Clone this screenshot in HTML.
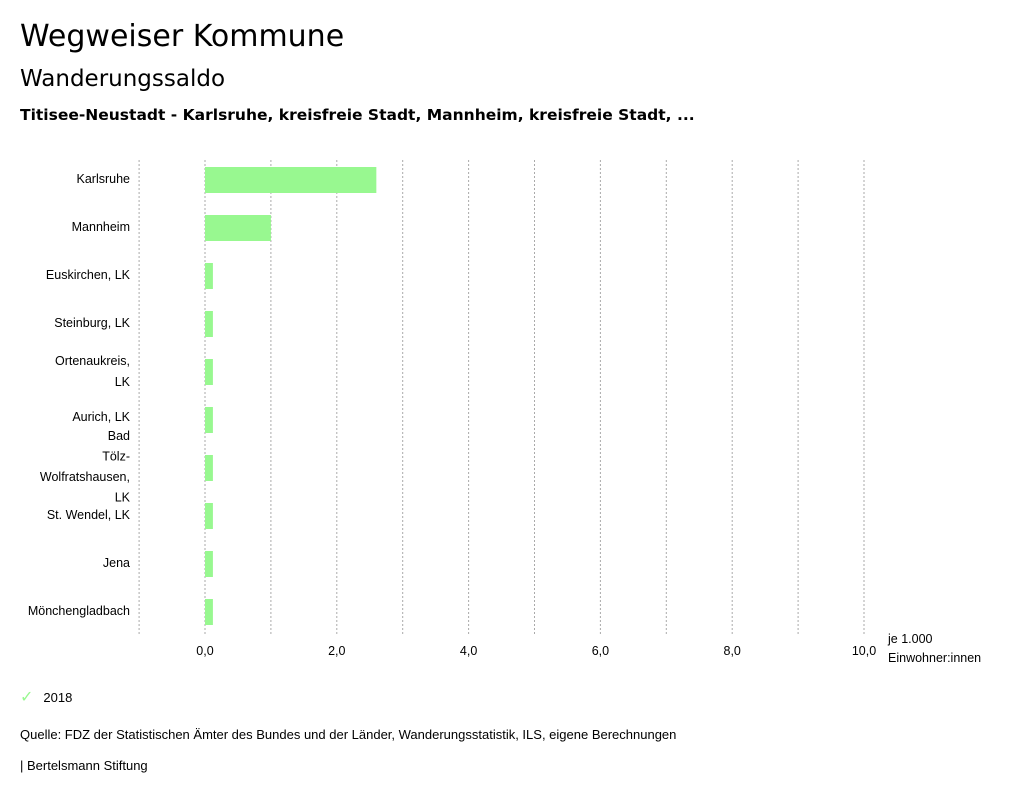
<!DOCTYPE html>
<html><head><meta charset="utf-8"><style>
body{margin:0;background:#fff;font-family:"Liberation Sans",sans-serif;color:#000;}
#wrap{position:relative;width:1024px;height:799px;overflow:hidden;}
.t{position:absolute;white-space:nowrap;}
.h{font-family:"DejaVu Sans",sans-serif;}
</style></head><body>
<div id="wrap">
<div class="t h" style="left:20px;top:19px;font-size:30px;">Wegweiser Kommune</div>
<div class="t h" style="left:20px;top:66px;font-size:23px;">Wanderungssaldo</div>
<div class="t h" style="left:20px;top:106px;font-size:15.5px;font-weight:bold;">Titisee-Neustadt - Karlsruhe, kreisfreie Stadt, Mannheim, kreisfreie Stadt, ...</div>
<svg id="chart" width="1024" height="700" style="position:absolute;left:0;top:0"></svg>
<div class="t" style="left:888px;top:630px;font-size:12.5px;line-height:19px;">je 1.000<br>Einwohner:innen</div>
<div class="t" style="left:20px;top:687px;font-size:13px;"><span style="color:#98f890;margin-right:10px;font-size:16px;">✓</span>2018</div>
<div class="t" style="left:20px;top:727px;font-size:13px;">Quelle: FDZ der Statistischen Ämter des Bundes und der Länder, Wanderungsstatistik, ILS, eigene Berechnungen</div>
<div class="t" style="left:20px;top:758px;font-size:13px;">| Bertelsmann Stiftung</div>
</div>
<script>
const categories=[["Karlsruhe"],["Mannheim"],["Euskirchen, LK"],["Steinburg, LK"],["Ortenaukreis,","LK"],["Aurich, LK"],["Bad","Tölz-","Wolfratshausen,","LK"],["St. Wendel, LK"],["Jena"],["Mönchengladbach"]];
const values=[2.6,1.0,0.12,0.12,0.12,0.12,0.12,0.12,0.12,0.12];
const ticks=[0,2,4,6,8,10];
const tickLabels=["0,0","2,0","4,0","6,0","8,0","10,0"];
const grids=[-1,0,1,2,3,4,5,6,7,8,9,10];
const NS="http://www.w3.org/2000/svg";
const svg=document.getElementById('chart');
const x=v=>205+v*65.9;
const rowY=i=>180+i*48;
function mk(t,a){const e=document.createElementNS(NS,t);for(const k in a)e.setAttribute(k,a[k]);svg.appendChild(e);return e;}
grids.forEach(g=>{const l=mk('line',{x1:x(g),x2:x(g),y1:160,y2:635,stroke:'#aaa','stroke-dasharray':'2,2','stroke-width':1});

});
ticks.forEach((t,i)=>{const e=mk('text',{x:x(t),y:655,'text-anchor':'middle','font-size':12.5,'font-family':'Liberation Sans, sans-serif'});e.textContent=tickLabels[i];

});
values.forEach((v,i)=>{const y0=rowY(i);
const r=mk('rect',{x:Math.min(x(0),x(v)),y:y0-13,width:Math.abs(x(v)-x(0)),height:26,fill:'#98f890'});


const lines=categories[i];const n=lines.length;
let lh=21,start;
if(n===1)start=y0+3;else if(n===2)start=y0-7;else{lh=20.5;start=y0-28;}
if(i===5)start=y0+1;
lines.forEach((s,j)=>{const e=mk('text',{x:130,y:start+j*lh,'text-anchor':'end','font-size':12.5,'font-family':'Liberation Sans, sans-serif'});e.textContent=s;

});
});
</script>
</body></html>
